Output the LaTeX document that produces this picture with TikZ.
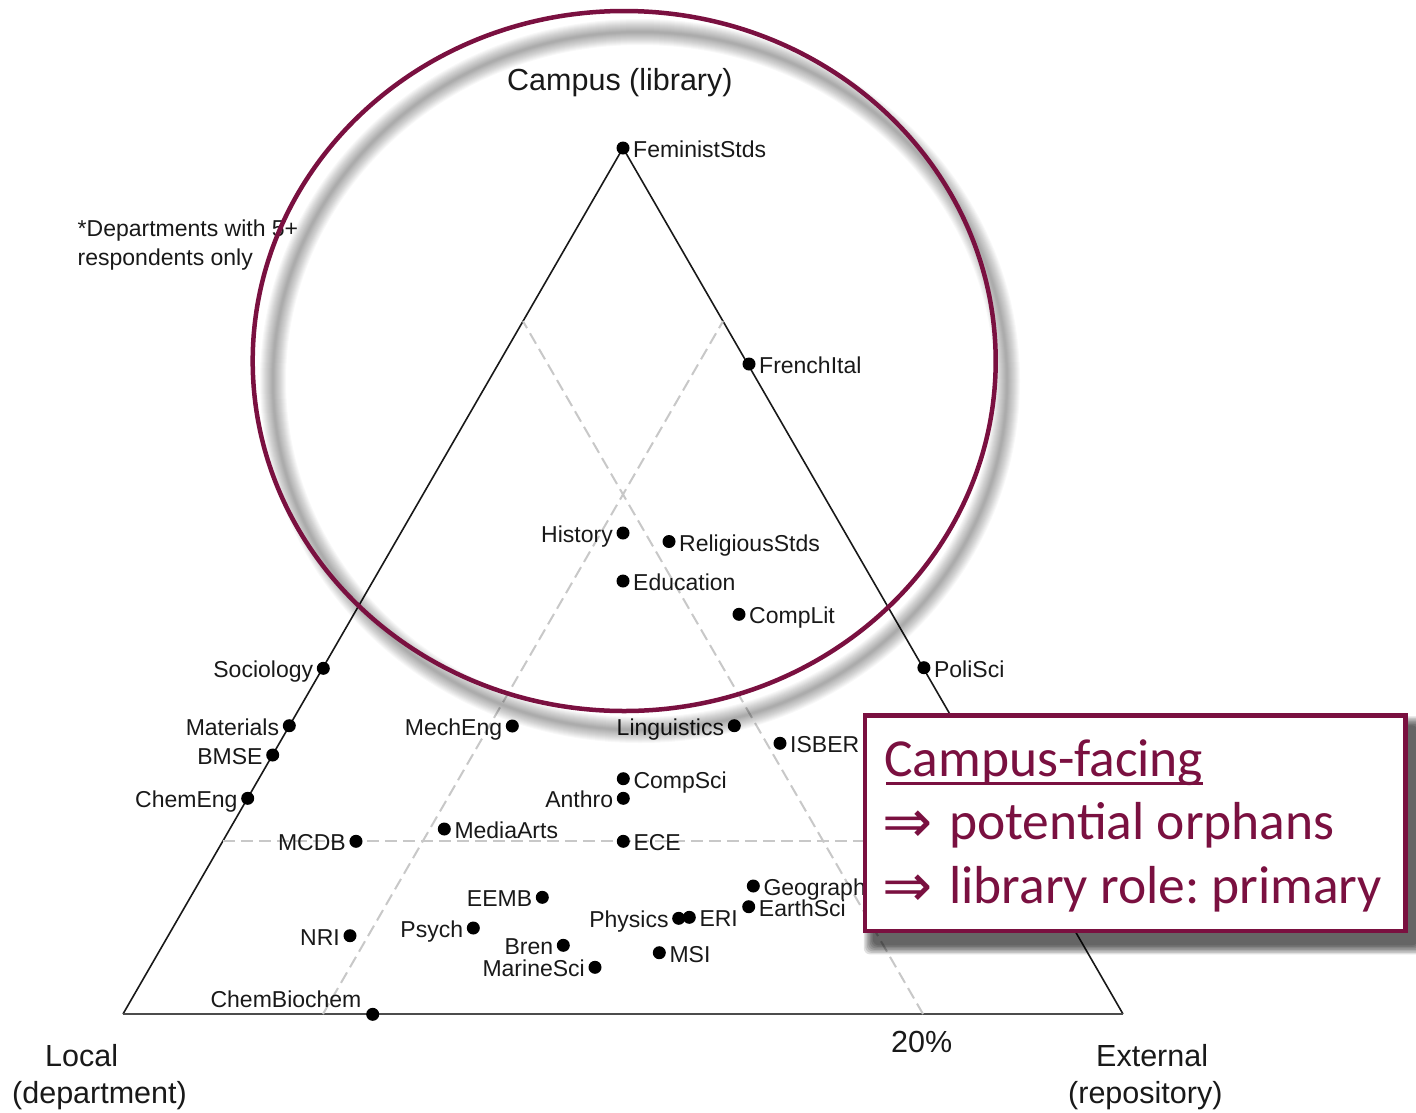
\documentclass[tikz,border=0pt]{standalone}
\usepackage{fontspec}
\setmainfont{Liberation Sans}
\newfontfamily\calib{Carlito}
\newfontfamily\djv{DejaVu Sans}
\definecolor{maroon}{RGB}{122,16,64}
\definecolor{ink}{RGB}{25,25,25}
\definecolor{dashgray}{RGB}{200,200,200}
\newcommand\deptR[4]{\node[dot] (#1) at (#2,#3) {};\node[lbl,anchor=west] (#1-l) at ([xshift=10pt]#1.center) {#4};}
\newcommand\deptL[4]{\node[dot] (#1) at (#2,#3) {};\node[lbl,anchor=east] (#1-l) at ([xshift=-10pt]#1.center) {#4};}
\frenchspacing
\begin{document}
\begin{tikzpicture}[x=1pt,y=-1pt,
  dot/.style={circle,fill=black,inner sep=0pt,minimum size=13pt},
  lbl/.style={font=\fontsize{23}{27}\selectfont,text=ink,inner sep=0pt,text height=19pt,text depth=0pt},
  axis/.style={font=\fontsize{30.5}{36}\selectfont,text=ink,inner sep=0pt,anchor=base west},
  note/.style={font=\fontsize{23}{27}\selectfont,text=ink,inner sep=0pt,anchor=base west},
  side/.style={ink,line width=1.6pt},
  guide/.style={dashgray,line width=2pt,dash pattern=on 12pt off 6pt},
  boxtext/.style={font=\calib\fontsize{53.5}{62}\selectfont,text=maroon,inner sep=0pt,anchor=base west},
  arrowtext/.style={font=\djv\fontsize{60}{62}\selectfont,text=maroon,inner sep=0pt,anchor=base west}
]
\useasboundingbox (0,0) rectangle (1416,1112);
\fill[white] (0,0) rectangle (1416,1112);

% triangle
\coordinate (top) at (623,148);
\coordinate (bl) at (123,1014);
\coordinate (br) at (1123,1014);
\draw[side,line join=round] (bl) -- (top) -- (br);
\draw[gray!60!black,line width=2.5pt] (bl) -- (br);

% 20% guide lines
\coordinate (hl) at (222.9,841.3);
\coordinate (hr) at (1023.1,841.3);
\coordinate (ab) at (323,1014);
\coordinate (at) at (723,321.2);
\coordinate (cb) at (923,1014);
\coordinate (ct) at (523,321.2);
\draw[guide] (hl) -- (hr);
\draw[guide] (ab) -- (at);
\draw[guide] (cb) -- (ct);

% axis labels
\node[axis] (campus) at (507,90) {Campus (library)};
\node[axis] (local1) at (45,1066.5) {Local};
\node[axis] (local2) at (12,1103) {(department)};
\node[axis] (ext1) at (1096,1066.5) {External};
\node[axis] (ext2) at (1068,1103) {(repository)};
\node[axis] (pct) at (891,1052) {20\%};
\node[note] (note1) at (77.5,236.7) {*Departments with 5+};
\node[note] (note2) at (77.5,265) {respondents only};

% departments
\deptR{FeministStds}{623}{148}{FeministStds}
\deptR{FrenchItal}{749}{364}{FrenchItal}
\deptL{History}{623}{533}{History}
\deptR{ReligiousStds}{669}{541.5}{ReligiousStds}
\deptR{Education}{623}{581}{Education}
\deptR{CompLit}{739}{614.3}{CompLit}
\deptL{Sociology}{323.3}{668.3}{Sociology}
\deptR{PoliSci}{923.9}{667.7}{PoliSci}
\deptL{Materials}{289.3}{725.7}{Materials}
\deptL{MechEng}{512.3}{726}{MechEng}
\deptL{Linguistics}{734.3}{725.7}{Linguistics}
\deptR{ISBER}{780}{743.3}{ISBER}
\deptL{BMSE}{272.7}{755}{BMSE}
\deptR{CompSci}{623.3}{778.7}{CompSci}
\deptL{Anthro}{623.3}{798.3}{Anthro}
\deptL{ChemEng}{247.7}{798.3}{ChemEng}
\deptL{MCDB}{356}{841.3}{MCDB}
\deptR{MediaArts}{444.3}{829}{MediaArts}
\deptR{ECE}{623.3}{841.3}{ECE}
\deptR{Geography}{753.3}{886}{Geography}
\deptR{EarthSci}{748.7}{906.7}{EarthSci}
\deptL{EEMB}{542.3}{897.3}{EEMB}
\deptL{Physics}{678.7}{918.3}{Physics}
\deptR{ERI}{689.3}{917.3}{ERI}
\deptL{Psych}{473.3}{928}{Psych}
\deptL{NRI}{350}{935.7}{NRI}
\deptL{Bren}{563.3}{945.3}{Bren}
\deptR{MSI}{659.3}{952.7}{MSI}
\deptL{MarineSci}{595}{967.3}{MarineSci}
\node[dot] (ChemBiochem) at (372.7,1014.3) {};
\node[lbl] (ChemBiochem-l) at (286,998) {ChemBiochem};

% highlight ellipse with soft shadow
\foreach \w in {26,24,...,2}
  \draw[black,opacity=0.028,line width=\w pt] (640,381) ellipse [x radius=367pt,y radius=349pt];
\draw[maroon,line width=4.5pt] (624.2,361) ellipse [x radius=371.5pt,y radius=350pt];

% callout box with shadow
\foreach \b in {9,7.5,6,4.5,3,1.5,0}
  \fill[black,opacity=0.12,rounded corners=6pt] (872.8-\b,725.3-\b) rectangle (1417.9+\b,945.3+\b);
\node[draw=maroon,fill=white,line width=4.5pt,inner sep=0pt,outer sep=0pt,
      minimum width=540.6pt,minimum height=215.5pt] (box) at (1135.35,823.3) {};
\node[boxtext] (l1) at (884,776) {Campus-facing};
\draw[maroon,line width=3pt] ([yshift=-7pt,xshift=2pt]l1.base west) -- ([yshift=-7pt]l1.base east);
\node[arrowtext] (a2) at (882,842.5) {⇒};
\node[boxtext] (l2) at (949,839.3) {potential orphans};
\node[arrowtext] (a3) at (882,906.2) {⇒};
\node[boxtext] (l3) at (949,903) {library role: primary};
\end{tikzpicture}
\end{document}
